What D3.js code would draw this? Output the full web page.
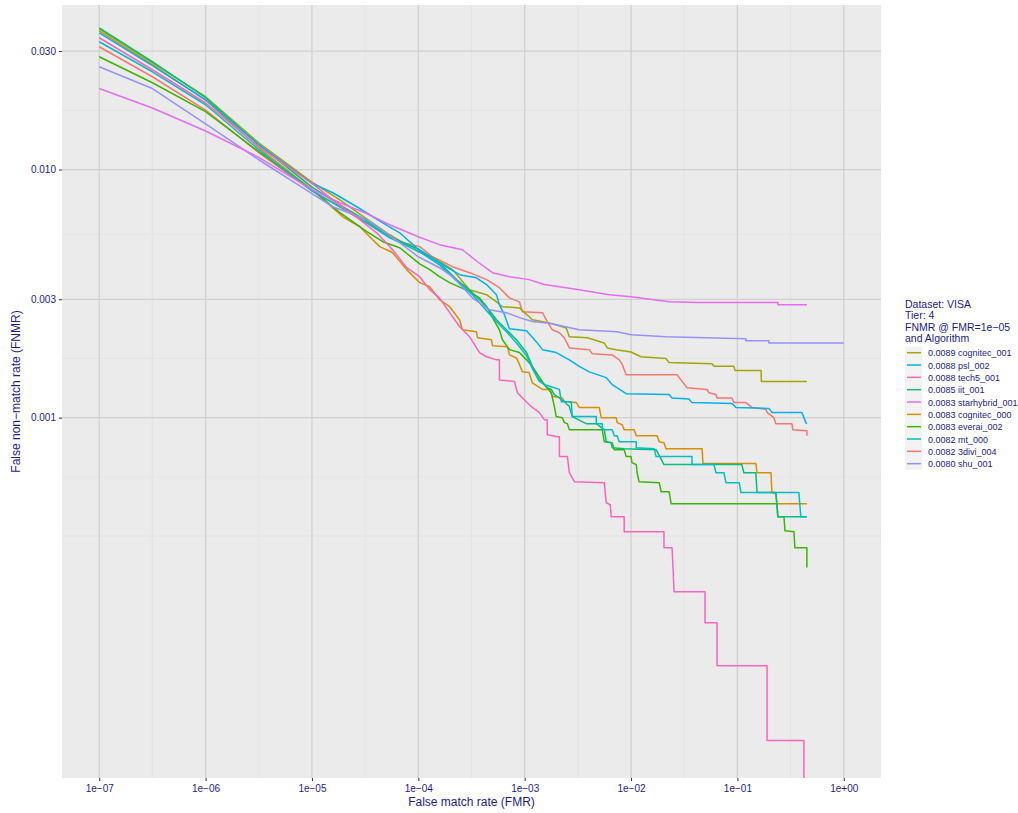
<!DOCTYPE html>
<html><head><meta charset="utf-8">
<script src="https://cdn.jsdelivr.net/npm/d3@7"></script>
<style>body{margin:0;background:#fff}svg{display:block}text{font-family:"Liberation Sans",Arial,Helvetica,sans-serif}</style>
</head><body>
<svg id="c" width="1018" height="813"></svg>
<script>
// ---- data: [FMR, FNMR] ----
const s3divi_004 = [[1e-7,0.03125],[3.16e-7,0.02365],[1e-6,0.01737],[3.16e-6,0.01169],[1e-5,0.0082],[1.83e-5,0.00708],[3.14e-5,0.00616],[6.68e-5,0.00512],[1.03e-4,0.00489],[1.36e-4,0.00445],[2.1e-4,0.00406],[3.03e-4,0.00384],[4.38e-4,0.0036],[5.79e-4,0.00334],[7.19e-4,0.00304],[8.92e-4,0.00293],[9.52e-4,0.00267],[1.47e-3,0.00265],[1.63e-3,0.00244],[1.82e-3,0.00226],[2.12e-3,0.0022],[2.36e-3,0.0021],[2.63e-3,0.00191],[4.05e-3,0.00188],[4.32e-3,0.00181],[6.65e-3,0.00179],[7.74e-3,0.00171],[8.26e-3,0.00164],[9.0e-3,0.00149],[2.71e-2,0.00149],[3.02e-2,0.0014],[3.36e-2,0.00132],[5.18e-2,0.0013],[5.41e-2,0.00126],[6.29e-2,0.00124],[6.43e-2,0.0012],[8.89e-2,0.0012],[9.28e-2,0.00115],[1.2e-1,0.00115],[1.37e-1,0.0011],[1.86e-1,0.00108],[1.9e-1,0.00105],[2.2e-1,0.001],[2.3e-1,0.000946],[3.25e-1,0.000946],[3.32e-1,0.000895],[0.45,0.000886],[0.45,0.000846]];
const cognitec_000 = [[1e-7,0.03624],[3.16e-7,0.02644],[1e-6,0.01906],[3.16e-6,0.01224],[1e-5,0.0083],[1.95e-5,0.00645],[2.82e-5,0.00588],[3.49e-5,0.00536],[4.34e-5,0.00489],[5.74e-5,0.00462],[7.77e-5,0.00395],[1.03e-4,0.0035],[1.28e-4,0.00337],[1.58e-4,0.00299],[1.97e-4,0.0028],[2.44e-4,0.00248],[2.6e-4,0.00226],[3.52e-4,0.00222],[3.6e-4,0.0021],[4.87e-4,0.00206],[4.98e-4,0.00195],[6.89e-4,0.00193],[7.19e-4,0.00179],[8.37e-4,0.00174],[8.92e-4,0.00164],[9.52e-4,0.00153],[1.1e-3,0.00152],[1.18e-3,0.00138],[1.47e-3,0.0013],[1.71e-3,0.0013],[1.82e-3,0.00122],[2.26e-3,0.0012],[2.36e-3,0.00116],[3.06e-3,0.00115],[3.26e-3,0.0011],[5.02e-3,0.0011],[5.25e-3,0.001],[7.25e-3,0.001],[7.41e-3,0.000955],[8.26e-3,0.000937],[8.62e-3,0.000895],[1.07e-2,0.000895],[1.12e-2,0.000846],[1.76e-2,0.000846],[1.84e-2,0.0008],[2.04e-2,0.000793],[2.13e-2,0.00075],[4.65e-2,0.00075],[4.75e-2,0.000653],[1.49e-1,0.000653],[1.53e-1,0.0006],[2.07e-1,0.0006],[2.11e-1,0.000499],[2.3e-1,0.000494],[2.35e-1,0.00045],[0.45,0.00045]];
const cognitec_001 = [[1e-7,0.0369],[3.16e-7,0.02693],[1e-6,0.01965],[3.16e-6,0.01282],[1e-5,0.0089],[1.83e-5,0.00755],[3.14e-5,0.0064],[5.38e-5,0.00546],[1e-4,0.00466],[1.485e-4,0.00433],[2.1e-4,0.00395],[3.03e-4,0.00328],[4.38e-4,0.00313],[5.43e-4,0.00293],[6.18e-4,0.0028],[8.92e-4,0.00277],[1.18e-3,0.00248],[1.71e-3,0.00241],[2.46e-3,0.0023],[2.63e-3,0.00212],[3.88e-3,0.0021],[5.6e-3,0.002],[5.97e-3,0.00191],[7.25e-3,0.00188],[1e-2,0.00184],[1.24e-2,0.00176],[2.13e-2,0.00173],[2.28e-2,0.00167],[5.77e-2,0.00165],[6.02e-2,0.00161],[9.28e-2,0.00161],[9.48e-2,0.00155],[1.67e-1,0.00155],[1.68e-1,0.0014],[0.45,0.0014]];
const everai_002 = [[1e-7,0.02848],[3.16e-7,0.02237],[1e-6,0.0171],[3.16e-6,0.0118],[1e-5,0.0083],[1.83e-5,0.0067],[3.28e-5,0.00562],[4.63e-5,0.00512],[6.68e-5,0.00484],[1.03e-4,0.00417],[1.28e-4,0.00395],[1.58e-4,0.0037],[1.97e-4,0.0035],[3.03e-4,0.00322],[3.76e-4,0.00304],[4.38e-4,0.0028],[4.98e-4,0.00253],[5.79e-4,0.00226],[6.18e-4,0.00206],[7.19e-4,0.00188],[8.92e-4,0.00183],[1.04e-3,0.00171],[1.18e-3,0.00161],[1.53e-3,0.00136],[1.78e-3,0.00126],[1.9e-3,0.00111],[1.98e-3,0.00101],[2.26e-3,0.001],[2.36e-3,0.000955],[2.52e-3,0.000946],[2.63e-3,0.000895],[5.36e-3,0.000895],[5.6e-3,0.0008],[6.65e-3,0.000793],[6.95e-3,0.000743],[8.62e-3,0.000743],[9.0e-3,0.000697],[1e-2,0.000697],[1.02e-2,0.000659],[1.12e-2,0.000647],[1.14e-2,0.0006],[1.19e-2,0.000552],[1.84e-2,0.000547],[1.92e-2,0.000503],[2.28e-2,0.000503],[2.38e-2,0.00045],[2.35e-1,0.00045],[2.4e-1,0.000399],[2.74e-1,0.000399],[2.8e-1,0.00035],[3.4e-1,0.000347],[3.47e-1,0.000299],[0.45,0.000299],[0.45,0.000249]];
const iit_001 = [[1e-7,0.03726],[3.16e-7,0.02719],[1e-6,0.01947],[3.16e-6,0.01259],[1e-5,0.0085],[1.83e-5,0.00721],[3.14e-5,0.00628],[5.38e-5,0.00536],[1.03e-4,0.00475],[1.58e-4,0.00421],[2.29e-4,0.0036],[3.23e-4,0.00319],[4.38e-4,0.0028],[5.43e-4,0.00248],[6.74e-4,0.00226],[8.37e-4,0.00206],[1.04e-3,0.00183],[1.18e-3,0.00161],[1.37e-3,0.00142],[1.63e-3,0.00132],[1.78e-3,0.0013],[1.9e-3,0.00124],[2.36e-3,0.00116],[2.63e-3,0.00111],[2.8e-3,0.00101],[3.79e-3,0.000946],[4.71e-3,0.000946],[5.6e-3,0.000895],[5.84e-3,0.0008],[6.51e-3,0.000793],[6.65e-3,0.000757],[8.62e-3,0.00075],[1.72e-2,0.000743],[2.04e-2,0.000647],[1.1e-1,0.000647],[1.15e-1,0.0006],[1.49e-1,0.0006],[1.53e-1,0.000499],[2.3e-1,0.000499],[2.4e-1,0.000399],[0.45,0.000399]];
const mt_000 = [[1e-7,0.03272],[3.16e-7,0.02477],[1e-6,0.01824],[3.16e-6,0.01202],[1e-5,0.0082],[1.83e-5,0.00708],[3.14e-5,0.00616],[5.38e-5,0.00531],[1.03e-4,0.00466],[1.58e-4,0.00413],[2.29e-4,0.00356],[3.23e-4,0.00313],[4.38e-4,0.0027],[5.43e-4,0.00244],[6.74e-4,0.00222],[8.37e-4,0.002],[1.04e-3,0.00178],[1.18e-3,0.00158],[1.37e-3,0.0014],[1.6e-3,0.00135],[2.12e-3,0.0013],[2.21e-3,0.00116],[2.74e-3,0.00116],[2.8e-3,0.00101],[4.71e-3,0.00101],[4.71e-3,0.000946],[5.36e-3,0.000946],[5.36e-3,0.000895],[6.65e-3,0.000895],[6.95e-3,0.000846],[7.41e-3,0.000846],[7.74e-3,0.0008],[1.12e-2,0.0008],[1.12e-2,0.000757],[1.65e-2,0.00075],[1.72e-2,0.000697],[3.74e-2,0.000697],[3.74e-2,0.000647],[6.02e-2,0.000647],[6.29e-2,0.0006],[7.47e-2,0.0006],[7.81e-2,0.000547],[1.04e-1,0.000547],[1.08e-1,0.000499],[3.78e-1,0.000499],[3.95e-1,0.000399],[0.45,0.000399]];
const psl_002 = [[1e-7,0.03556],[3.16e-7,0.0262],[1e-6,0.0191],[3.16e-6,0.01259],[1e-5,0.0088],[1.57e-5,0.00806],[2.64e-5,0.00708],[4.63e-5,0.0061],[6.68e-5,0.00556],[1.03e-4,0.00471],[1.58e-4,0.00421],[2.44e-4,0.00377],[3.52e-4,0.00366],[4.38e-4,0.00344],[5.43e-4,0.00313],[5.79e-4,0.00285],[6.45e-4,0.0026],[7.19e-4,0.00228],[1.04e-3,0.00224],[1.29e-3,0.00202],[1.47e-3,0.00188],[1.98e-3,0.00183],[2.63e-3,0.00171],[3.26e-3,0.00161],[4.05e-3,0.00153],[5.84e-3,0.00145],[6.65e-3,0.00136],[9.0e-3,0.00125],[2.28e-2,0.00124],[2.43e-2,0.0012],[3.51e-2,0.00119],[3.74e-2,0.00115],[8.89e-2,0.00114],[9.69e-2,0.0011],[1.98e-1,0.00109],[2.11e-1,0.00105],[4.04e-1,0.00105],[4.4e-1,0.000955],[0.45,0.000946]];
const shu_001 = [[1e-7,0.02596],[3.16e-7,0.0212],[1e-6,0.01529],[3.16e-6,0.01095],[1e-5,0.0080],[1.57e-5,0.00708],[3.28e-5,0.00628],[6.68e-5,0.00507],[1e-4,0.00445],[1.58e-4,0.00402],[2.1e-4,0.0037],[3.23e-4,0.00304],[4.67e-4,0.00272],[6.74e-4,0.00265],[8.92e-4,0.00253],[1.18e-3,0.00244],[1.6e-3,0.00241],[1.98e-3,0.00237],[3.26e-3,0.00226],[7.41e-3,0.00222],[1e-2,0.00216],[2.13e-2,0.00212],[1.2e-1,0.00208],[1.2e-1,0.00204],[1.98e-1,0.00204],[1.98e-1,0.002],[1,0.002]];
const starhybrid_001 = [[1e-7,0.0212],[3.16e-7,0.0177],[1e-6,0.0143],[3.16e-6,0.0112],[1e-5,0.0083],[1.83e-5,0.00735],[3.14e-5,0.0067],[5.38e-5,0.00599],[1e-4,0.00536],[1.58e-4,0.00498],[2.6e-4,0.00475],[3.6e-4,0.00425],[4.98e-4,0.00384],[7.19e-4,0.0037],[1.1e-3,0.0036],[1.53e-3,0.00344],[2.12e-3,0.00337],[3.26e-3,0.00328],[6.23e-3,0.00313],[1e-2,0.00307],[2.28e-2,0.00293],[4.36e-2,0.00291],[2.4e-1,0.00291],[2.4e-1,0.00285],[0.45,0.00285]];
const tech5_001 = [[1e-7,0.03396],[3.16e-7,0.02524],[1e-6,0.01854],[3.16e-6,0.01236],[1e-5,0.0088],[1.57e-5,0.00755],[2.82e-5,0.00628],[4.06e-5,0.00556],[5.74e-5,0.00475],[7.77e-5,0.00402],[1.03e-4,0.0037],[1.28e-4,0.00328],[1.58e-4,0.00304],[1.97e-4,0.00265],[2.44e-4,0.00233],[3.03e-4,0.00212],[3.76e-4,0.00183],[4.38e-4,0.00176],[5.43e-4,0.00171],[5.79e-4,0.00171],[5.79e-4,0.00142],[8.01e-4,0.0014],[8.55e-4,0.00126],[9.52e-4,0.0012],[1.1e-3,0.00113],[1.18e-3,0.0011],[1.37e-3,0.00105],[1.53e-3,0.000982],[1.63e-3,0.000982],[1.63e-3,0.000854],[2.03e-3,0.000838],[2.12e-3,0.000838],[2.12e-3,0.000697],[2.52e-3,0.000697],[2.63e-3,0.0006],[2.93e-3,0.000552],[5.6e-3,0.000547],[5.84e-3,0.000454],[6.37e-3,0.000446],[6.51e-3,0.000399],[8.62e-3,0.000399],[8.62e-3,0.000347],[2.04e-2,0.000347],[2.04e-2,0.000299],[2.43e-2,0.000299],[2.54e-2,0.000199],[4.96e-2,0.000199],[4.96e-2,0.000149],[6.43e-2,0.000149],[6.43e-2,0.0001],[1.9e-1,0.0001],[1.9e-1,0.00005],[4.22e-1,0.00005],[4.22e-1,0.0000289]];

// factor order (alphabetical) and legend order (by FNMR @ 1e-05)
const algorithms = ["3divi_004","cognitec_000","cognitec_001","everai_002","iit_001","mt_000","psl_002","shu_001","starhybrid_001","tech5_001"];
const seriesData = [s3divi_004,cognitec_000,cognitec_001,everai_002,iit_001,mt_000,psl_002,shu_001,starhybrid_001,tech5_001];
const colors = ["#F8766D","#D89000","#A3A500","#39B600","#00BF7D","#00BFC4","#00B0F6","#9590FF","#E76BF3","#FF62BC"];
const legendOrder = ["cognitec_001","psl_002","tech5_001","iit_001","starhybrid_001","cognitec_000","everai_002","mt_000","3divi_004","shu_001"];
const legendFnmr = ["0.0089","0.0088","0.0088","0.0085","0.0083","0.0083","0.0083","0.0082","0.0082","0.0080"];
const legendTitle = ["Dataset: VISA","Tier: 4","FNMR @ FMR=1e\u221205","and Algorithm"];
const xTicks = [1e-7,1e-6,1e-5,1e-4,1e-3,1e-2,1e-1,1];
const xTickLabels = ["1e\u221207","1e\u221206","1e\u221205","1e\u221204","1e\u221203","1e\u221202","1e\u221201","1e+00"];
const yTicks = [0.001,0.003,0.01,0.03];
const yTickLabels = ["0.001","0.003","0.010","0.030"];

// ---- layout ----
const P = {l:62, r:881, t:5, b:778};
const textCol = "#1C1C8C";
const x = d3.scaleLog().domain([Math.pow(10,-7.35), Math.pow(10,0.35)]).range([P.l,P.r]);
const y = d3.scaleLog().domain([Math.pow(10,-4.452), Math.pow(10,-1.337)]).range([P.b,P.t]);

const svg = d3.select("#c");
svg.append("rect").attr("x",P.l).attr("y",P.t).attr("width",P.r-P.l).attr("height",P.b-P.t).attr("fill","#EBEBEB");

// minor grid
const lx = xTicks.map(Math.log10);
const xMinor = lx.slice(0,-1).map((v,i)=>Math.pow(10,(v+lx[i+1])/2));
const ly = yTicks.map(Math.log10);
const ext = [ly[0]-(ly[1]-ly[0])].concat(ly);
const yMinor = [Math.pow(10,ext[0])].concat(ext.slice(0,-1).map((v,i)=>Math.pow(10,(v+ext[i+1])/2)));
const g = svg.append("g");
g.selectAll(".xm").data(xMinor).join("line").attr("x1",d=>x(d)).attr("x2",d=>x(d)).attr("y1",P.t).attr("y2",P.b).attr("stroke","#E2E2E2").attr("stroke-width",0.8);
g.selectAll(".ym").data(yMinor).join("line").attr("y1",d=>y(d)).attr("y2",d=>y(d)).attr("x1",P.l).attr("x2",P.r).attr("stroke","#E2E2E2").attr("stroke-width",0.8);
g.selectAll(".xM").data(xTicks).join("line").attr("x1",d=>x(d)).attr("x2",d=>x(d)).attr("y1",P.t).attr("y2",P.b).attr("stroke","#D0D0D0").attr("stroke-width",1.3);
g.selectAll(".yM").data(yTicks).join("line").attr("y1",d=>y(d)).attr("y2",d=>y(d)).attr("x1",P.l).attr("x2",P.r).attr("stroke","#D0D0D0").attr("stroke-width",1.3);

// clip
svg.append("clipPath").attr("id","clip").append("rect").attr("x",P.l).attr("y",P.t).attr("width",P.r-P.l).attr("height",P.b-P.t);
const line = d3.line().x(d=>x(d[0])).y(d=>y(d[1]));
svg.append("g").attr("clip-path","url(#clip)").selectAll("path").data(seriesData).join("path")
  .attr("d",line).attr("fill","none").attr("stroke",(d,i)=>colors[i]).attr("stroke-width",1.5).attr("stroke-linejoin","round");

// axes
const xAxis = svg.append("g").attr("transform",`translate(0,${P.b})`)
  .call(d3.axisBottom(x).tickValues(xTicks).tickFormat((d,i)=>xTickLabels[i]).tickSize(3).tickPadding(4));
const yAxis = svg.append("g").attr("transform",`translate(${P.l},0)`)
  .call(d3.axisLeft(y).tickValues(yTicks).tickFormat((d,i)=>yTickLabels[i]).tickSize(3).tickPadding(3));
[xAxis,yAxis].forEach(a=>{a.select(".domain").remove();a.selectAll(".tick line").attr("stroke","#333").attr("stroke-width",1);
  a.selectAll("text").attr("fill",textCol).attr("font-size",10).attr("font-family","Liberation Sans, Arial, sans-serif");});

svg.append("text").attr("x",(P.l+P.r)/2).attr("y",806).attr("text-anchor","middle").attr("fill",textCol).attr("font-size",12).text("False match rate (FMR)");
svg.append("text").attr("transform",`translate(20,${(P.t+P.b)/2}) rotate(-90)`).attr("text-anchor","middle").attr("fill",textCol).attr("font-size",12).text("False non\u2212match rate (FNMR)");

// legend
const lg = svg.append("g");
legendTitle.forEach((t,i)=>lg.append("text").attr("x",905).attr("y",308+i*11.3).attr("fill",textCol).attr("font-size",10.5).text(t));
legendOrder.forEach((name,i)=>{
  const k = algorithms.indexOf(name);
  const cy = 352.7+i*12.33;
  lg.append("rect").attr("x",905).attr("y",cy-6).attr("width",17.3).attr("height",12.3).attr("fill","#F2F2F2");
  lg.append("line").attr("x1",907).attr("x2",921).attr("y1",cy).attr("y2",cy).attr("stroke",colors[k]).attr("stroke-width",1.5);
  lg.append("text").attr("x",928).attr("y",cy+3.5).attr("fill",textCol).attr("font-size",9).text(legendFnmr[i]);
  lg.append("text").attr("x",958).attr("y",cy+3.5).attr("fill",textCol).attr("font-size",9).text(name);
});
</script>
</body></html>
